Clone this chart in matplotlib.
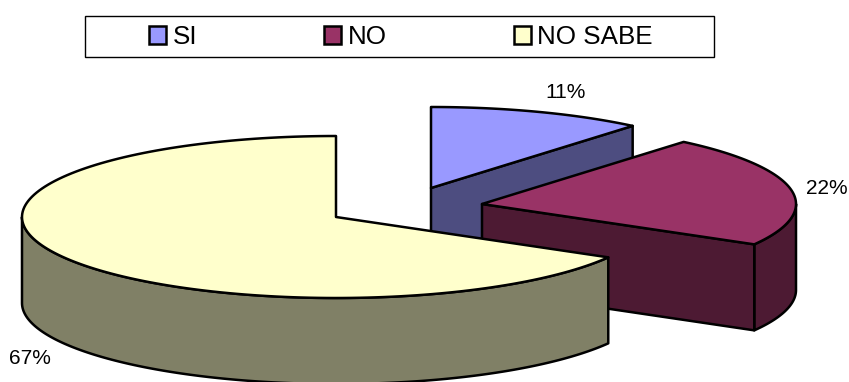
"""Exploded 3D-style pie chart with a boxed legend."""

import matplotlib

matplotlib.use("Agg")
import matplotlib.pyplot as plt
import numpy as np
from matplotlib.patches import Patch, Polygon, Rectangle

plt.rcParams["font.family"] = ["Liberation Sans", "DejaVu Sans"]

categories = ["SI", "NO", "NO SABE"]
percentages = [11.1, 22.2, 66.7]
top_colors = ["#9999FF", "#993366", "#FFFFCC"]
side_colors = ["#4D4D80", "#4D1A33", "#808066"]

# pie centers in pixels, one per exploded slice
centers = [(431, 188), (482, 204), (336, 217)]
label_positions = [(566, 92), (827, 188), (30, 358)]
RX, RY = 314, 81
DEPTH = 86
LINE = 1.8


def arc(center, start, end, drop=0.0):
    t = np.radians(np.linspace(start, end, 160))
    return np.column_stack([center[0] + RX * np.cos(t), center[1] - RY * np.sin(t) + drop])


def draw_slice(ax, center, start, end, top, side):
    # angles run counter-clockwise from the +x axis, end may pass 360
    cx, cy = center
    # outer wall: only the front half of the rim can be seen
    for low, high in [(180, 360), (540, 720)]:
        a, b = max(start, low), min(end, high)
        if a < b:
            rim = arc(center, a, b)
            wall = np.vstack([rim, arc(center, b, a, DEPTH)])
            ax.add_patch(Polygon(wall, closed=True, fc=side, ec="black", lw=LINE, joinstyle="round"))
    # cut walls, seen only when they face the viewer
    for angle, show in [(start, np.cos(np.radians(start)) > 1e-6), (end, np.cos(np.radians(end)) < -1e-6)]:
        if show:
            edge = arc(center, angle, angle)[0]
            wall = [(cx, cy), edge, (edge[0], edge[1] + DEPTH), (cx, cy + DEPTH)]
            ax.add_patch(Polygon(wall, closed=True, fc=side, ec="black", lw=LINE, joinstyle="round"))
    outline = np.vstack([[center], arc(center, start, end)])
    ax.add_patch(Polygon(outline, closed=True, fc=top, ec="black", lw=LINE, joinstyle="round"))


fig = plt.figure(figsize=(8.49, 3.82), dpi=100)
ax = fig.add_axes([0, 0, 1, 1])
ax.set_xlim(0, 849)
ax.set_ylim(382, 0)
ax.axis("off")

# slices run clockwise from the top, painted back to front
angle = 90.0
for i in range(len(percentages)):
    sweep = percentages[i] * 3.6
    start = angle - sweep
    wrap = 360 if start < 0 else 0
    draw_slice(ax, centers[i], start + wrap, angle + wrap, top_colors[i], side_colors[i])
    angle = start

for pos, pct in zip(label_positions, percentages):
    ax.text(pos[0], pos[1], f"{pct:.0f}%", fontsize=15, ha="center", va="center", color="black")

ax.add_patch(Rectangle((85, 16), 629, 41, fc="white", ec="black", lw=1.0))
handles = [Patch(fc=c, ec="black", lw=LINE) for c in top_colors]
ax.legend(
    handles,
    categories,
    loc="center",
    bbox_to_anchor=(401 / 849, 1 - 37 / 382),
    ncol=3,
    frameon=False,
    fontsize=18.7,
    handlelength=0.65,
    handleheight=0.65,
    handletextpad=0.25,
    columnspacing=4.9,
    borderpad=0,
    borderaxespad=0,
)

fig.savefig("out.png", dpi=100)
plt.close(fig)
